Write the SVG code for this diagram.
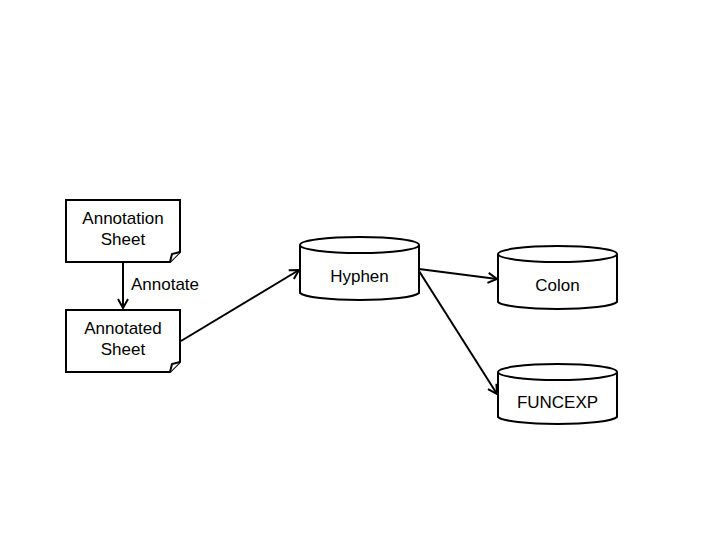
<svg xmlns="http://www.w3.org/2000/svg" width="720" height="540" viewBox="0 0 720 540">
<defs>
<style>
.s{fill:#fff;stroke:#000;stroke-width:2}
.t{font-family:"Liberation Sans",Arial,sans-serif;font-size:17px;fill:#000;text-anchor:middle}
.c{fill:none;stroke:#000;stroke-width:2}
</style>
<marker id="a" markerWidth="12" markerHeight="12" refX="10" refY="6" orient="auto" markerUnits="userSpaceOnUse">
<path d="M1,1 L10,6 L1,11" fill="none" stroke="#000" stroke-width="2"/>
</marker>
</defs>
<rect width="720" height="540" fill="#fff"/>
<g id="connectors">
<line class="c" x1="123" y1="262" x2="123" y2="308" marker-end="url(#a)"/>
<text class="t" x="165" y="290">Annotate</text>
<line class="c" x1="181" y1="341" x2="299" y2="270" marker-end="url(#a)"/>
<line class="c" x1="419" y1="269" x2="497" y2="279" marker-end="url(#a)"/>
<line class="c" x1="419" y1="271" x2="497" y2="394" marker-end="url(#a)"/>
</g>
<g id="annotation-sheet">
<path class="s" d="M66,200 H180 V252 L170,262 H66 Z"/>
<path class="s" d="M170,262 L172,254 L180,252"/>
<text class="t" x="123" y="224">Annotation</text>
<text class="t" x="123" y="245">Sheet</text>
</g>
<g id="annotated-sheet">
<path class="s" d="M66,310 H180 V362 L170,372 H66 Z"/>
<path class="s" d="M170,372 L172,364 L180,362"/>
<text class="t" x="123" y="334">Annotated</text>
<text class="t" x="123" y="355">Sheet</text>
</g>
<g id="hyphen">
<path class="s" d="M300,245 V293 A60,8 0 0 0 419,293 V245"/>
<ellipse class="s" cx="359.5" cy="245" rx="59.5" ry="8"/>
<text class="t" x="359.5" y="282">Hyphen</text>
</g>
<g id="colon">
<path class="s" d="M498,254 V302 A60,8 0 0 0 617,302 V254"/>
<ellipse class="s" cx="557.5" cy="254" rx="59.5" ry="8"/>
<text class="t" x="557.5" y="291">Colon</text>
</g>
<g id="funcexp">
<path class="s" d="M498,372 V417 A60,8 0 0 0 617,417 V372"/>
<ellipse class="s" cx="557.5" cy="372" rx="59.5" ry="8"/>
<text class="t" x="557.5" y="408">FUNCEXP</text>
</g>
</svg>
